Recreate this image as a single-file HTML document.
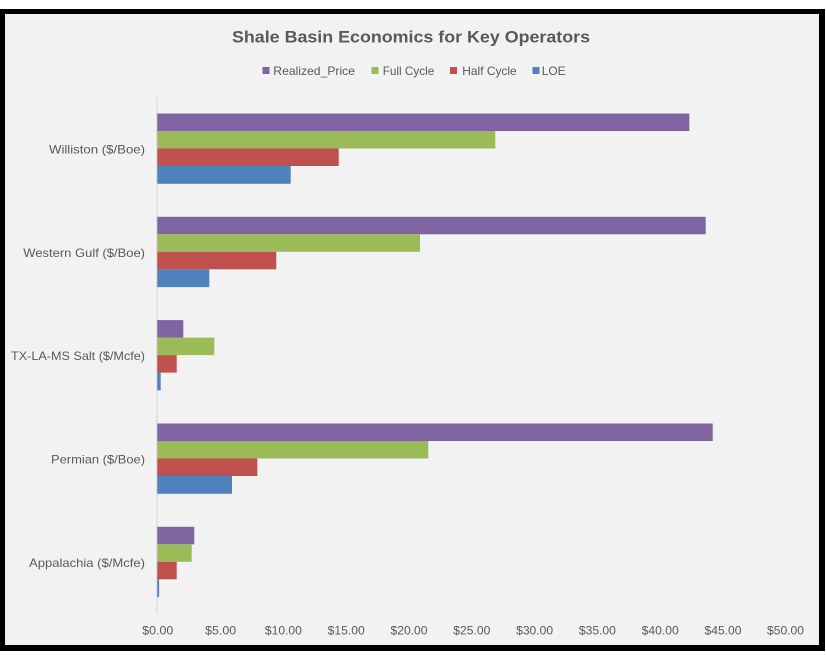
<!DOCTYPE html>
<html>
<head>
<meta charset="utf-8">
<style>
html,body{margin:0;padding:0;background:#fff;}
svg{display:block;}
text{font-family:"Liberation Sans",sans-serif;fill:#595959;}
</style>
</head>
<body>
<svg width="826" height="656" viewBox="0 0 826 656" xmlns="http://www.w3.org/2000/svg">
  <rect x="0" y="0" width="826" height="656" fill="#ffffff"/>
  <rect x="0" y="9" width="825" height="642" fill="#000000"/>
  <rect x="5" y="14" width="814" height="631" fill="#f2f2f2"/>

  <!-- Title -->
  <text x="411" y="42.5" text-anchor="middle" font-size="17" font-weight="bold" textLength="358" lengthAdjust="spacingAndGlyphs">Shale Basin Economics for Key Operators</text>

  <!-- Legend -->
  <rect x="262.5" y="67" width="7" height="7" fill="#8064A2"/>
  <text x="273.3" y="75" font-size="12" textLength="81.7" lengthAdjust="spacingAndGlyphs">Realized_Price</text>
  <rect x="371.5" y="67" width="7" height="7" fill="#9BBB59"/>
  <text x="382.7" y="75" font-size="12" textLength="51.6" lengthAdjust="spacingAndGlyphs">Full Cycle</text>
  <rect x="450" y="67" width="7" height="7" fill="#C0504D"/>
  <text x="462.3" y="75" font-size="12" textLength="54.4" lengthAdjust="spacingAndGlyphs">Half Cycle</text>
  <rect x="532.5" y="67" width="7" height="7" fill="#4F81BD"/>
  <text x="541.7" y="75" font-size="12" textLength="24" lengthAdjust="spacingAndGlyphs">LOE</text>

  <!-- Axis line -->
  <rect x="156.3" y="96.7" width="1.2" height="516.7" fill="#d9d9d9"/>

  <!-- Williston (top = 96.7) -->
  <rect x="157.3" y="113.5" width="532" height="17.5" fill="#8064A2"/>
  <rect x="157.3" y="131" width="338" height="17.5" fill="#9BBB59"/>
  <rect x="157.3" y="148.5" width="181.4" height="17.5" fill="#C0504D"/>
  <rect x="157.3" y="166" width="133.4" height="17.8" fill="#4F81BD"/>

  <!-- Western Gulf (top = 200) -->
  <rect x="157.3" y="216.8" width="548.4" height="17.5" fill="#8064A2"/>
  <rect x="157.3" y="234.3" width="262.7" height="17.5" fill="#9BBB59"/>
  <rect x="157.3" y="251.8" width="119" height="17.5" fill="#C0504D"/>
  <rect x="157.3" y="269.3" width="52" height="17.8" fill="#4F81BD"/>

  <!-- TX-LA-MS Salt (top = 303.3) -->
  <rect x="157.3" y="320.1" width="26" height="17.5" fill="#8064A2"/>
  <rect x="157.3" y="337.6" width="57" height="17.5" fill="#9BBB59"/>
  <rect x="157.3" y="355.1" width="19.4" height="17.5" fill="#C0504D"/>
  <rect x="157.3" y="372.6" width="3.4" height="17.8" fill="#4F81BD"/>

  <!-- Permian (top = 406.7) -->
  <rect x="157.3" y="423.5" width="555.4" height="17.5" fill="#8064A2"/>
  <rect x="157.3" y="441" width="271" height="17.5" fill="#9BBB59"/>
  <rect x="157.3" y="458.5" width="100" height="17.5" fill="#C0504D"/>
  <rect x="157.3" y="476" width="74.7" height="17.8" fill="#4F81BD"/>

  <!-- Appalachia (top = 510) -->
  <rect x="157.3" y="526.8" width="37" height="17.5" fill="#8064A2"/>
  <rect x="157.3" y="544.3" width="34.4" height="17.5" fill="#9BBB59"/>
  <rect x="157.3" y="561.8" width="19.4" height="17.5" fill="#C0504D"/>
  <rect x="157.3" y="579.3" width="1.8" height="17.8" fill="#4F81BD"/>

  <!-- Category labels -->
  <text x="145" y="153.5" font-size="12" text-anchor="end" textLength="96" lengthAdjust="spacingAndGlyphs">Williston ($/Boe)</text>
  <text x="145" y="256.8" font-size="12" text-anchor="end" textLength="121.7" lengthAdjust="spacingAndGlyphs">Western Gulf ($/Boe)</text>
  <text x="145" y="360.1" font-size="12" text-anchor="end" textLength="134" lengthAdjust="spacingAndGlyphs">TX-LA-MS Salt ($/Mcfe)</text>
  <text x="145" y="463.5" font-size="12" text-anchor="end" textLength="94" lengthAdjust="spacingAndGlyphs">Permian ($/Boe)</text>
  <text x="145" y="566.8" font-size="12" text-anchor="end" textLength="116" lengthAdjust="spacingAndGlyphs">Appalachia ($/Mcfe)</text>

  <!-- X tick labels -->
  <g font-size="12" text-anchor="middle">
    <text x="157.8" y="634.5" textLength="31" lengthAdjust="spacingAndGlyphs">$0.00</text>
    <text x="220.6" y="634.5" textLength="31" lengthAdjust="spacingAndGlyphs">$5.00</text>
    <text x="283.4" y="634.5" textLength="37" lengthAdjust="spacingAndGlyphs">$10.00</text>
    <text x="346.2" y="634.5" textLength="37" lengthAdjust="spacingAndGlyphs">$15.00</text>
    <text x="409" y="634.5" textLength="37" lengthAdjust="spacingAndGlyphs">$20.00</text>
    <text x="471.8" y="634.5" textLength="37" lengthAdjust="spacingAndGlyphs">$25.00</text>
    <text x="534.6" y="634.5" textLength="37" lengthAdjust="spacingAndGlyphs">$30.00</text>
    <text x="597.4" y="634.5" textLength="37" lengthAdjust="spacingAndGlyphs">$35.00</text>
    <text x="660.2" y="634.5" textLength="37" lengthAdjust="spacingAndGlyphs">$40.00</text>
    <text x="723" y="634.5" textLength="37" lengthAdjust="spacingAndGlyphs">$45.00</text>
    <text x="785.5" y="634.5" textLength="37" lengthAdjust="spacingAndGlyphs">$50.00</text>
  </g>
</svg>
</body>
</html>
